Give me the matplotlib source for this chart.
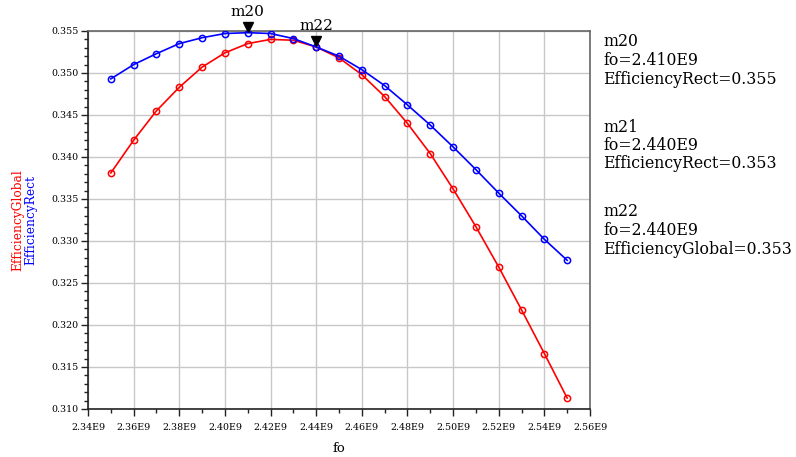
import matplotlib
matplotlib.use("Agg")
import matplotlib.pyplot as plt
from matplotlib.ticker import MultipleLocator, FuncFormatter
from matplotlib.transforms import offset_copy

plt.rcParams['font.family'] = ['DejaVu Serif']

fo = [2.35e9, 2.36e9, 2.37e9, 2.38e9, 2.39e9, 2.40e9, 2.41e9, 2.42e9, 2.43e9, 2.44e9,
      2.45e9, 2.46e9, 2.47e9, 2.48e9, 2.49e9, 2.50e9, 2.51e9, 2.52e9, 2.53e9, 2.54e9, 2.55e9]
eff_rect = [0.3493, 0.3510, 0.3523, 0.3535, 0.3542, 0.3547, 0.3548, 0.3547, 0.3541, 0.3531,
            0.3520, 0.3504, 0.3485, 0.3462, 0.3438, 0.3412, 0.3385, 0.3357, 0.3330, 0.3302, 0.3277]
eff_global = [0.3381, 0.3420, 0.3455, 0.3483, 0.3507, 0.3524, 0.3535, 0.3540, 0.3539, 0.3531,
              0.3518, 0.3498, 0.3472, 0.3440, 0.3404, 0.3362, 0.3317, 0.3269, 0.3218, 0.3166, 0.3113]

markers = [("m20", 6, "rect"), ("m22", 9, "global")]
marker_text = [
    ("m20", "fo=2.410E9", "EfficiencyRect=0.355"),
    ("m21", "fo=2.440E9", "EfficiencyRect=0.353"),
    ("m22", "fo=2.440E9", "EfficiencyGlobal=0.353"),
]

fig = plt.figure(figsize=(7.96, 4.57), dpi=100)
ax = fig.add_axes([88/796, 1-409/457, (590-88)/796, (409-31)/457])

ax.plot(fo, eff_global, color='#ff0000', lw=1.2, marker='o', ms=4.5, mfc='none',
        mec='#ff0000', mew=1.1, zorder=3)
ax.plot(fo, eff_rect, color='#0000ff', lw=1.2, marker='o', ms=4.5, mfc='none',
        mec='#0000ff', mew=1.1, zorder=3)

ax.set_xlim(2.34e9, 2.56e9)
ax.set_ylim(0.310, 0.355)
ax.xaxis.set_major_locator(MultipleLocator(0.02e9))
ax.xaxis.set_minor_locator(MultipleLocator(0.01e9))
ax.yaxis.set_major_locator(MultipleLocator(0.005))
ax.yaxis.set_minor_locator(MultipleLocator(0.001))
ax.xaxis.set_major_formatter(FuncFormatter(lambda v, p: f"{v/1e9:.2f}E9"))
ax.yaxis.set_major_formatter(FuncFormatter(lambda v, p: f"{v:.3f}"))
ax.tick_params(axis='both', which='major', direction='out', length=5, width=1,
               labelsize=6.8, color='#222222', pad=2)
ax.tick_params(axis='both', which='minor', direction='out', length=3, width=1, color='#222222')
ax.tick_params(axis='x', pad=5)
ax.grid(True, which='major', color='#c8c8c8', lw=1)
ax.set_axisbelow(True)
for s in ['left', 'bottom']:
    ax.spines[s].set_color('#222222')
    ax.spines[s].set_linewidth(1.2)
for s in ['top', 'right']:
    ax.spines[s].set_color('#666666')
    ax.spines[s].set_linewidth(1.2)

# x label placed explicitly
fig.text(339/796, 1-449/457, 'fo', ha='center', va='center', fontsize=9.5)

# two-colour y label
fig.text(18/796, 1-220/457, 'EfficiencyGlobal', color='#ff0000', rotation=90,
         ha='center', va='center', fontsize=8.8)
fig.text(31/796, 1-220/457, 'EfficiencyRect', color='#0000ff', rotation=90,
         ha='center', va='center', fontsize=8.8)

# marker triangles
for name, idx, series in markers:
    yv = eff_rect[idx] if series == "rect" else eff_global[idx]
    tr = offset_copy(ax.transData, fig=fig, x=0, y=4, units='points')
    ax.plot([fo[idx]], [yv], marker='v', ms=7, color='black', transform=tr,
            clip_on=False, zorder=5)
    ax.annotate(name, (fo[idx], yv), xytext=(0, 15), textcoords='offset points',
                ha='center', va='center', fontsize=11, annotation_clip=False)

# marker readouts
starts = [42, 127, 212]
for (a, b, c), y0 in zip(marker_text, starts):
    for k, line in enumerate((a, b, c)):
        fig.text(603/796, 1-(y0 + k*18.5)/457, line, ha='left', va='center', fontsize=11.3)

fig.savefig('out.png', dpi=100)
